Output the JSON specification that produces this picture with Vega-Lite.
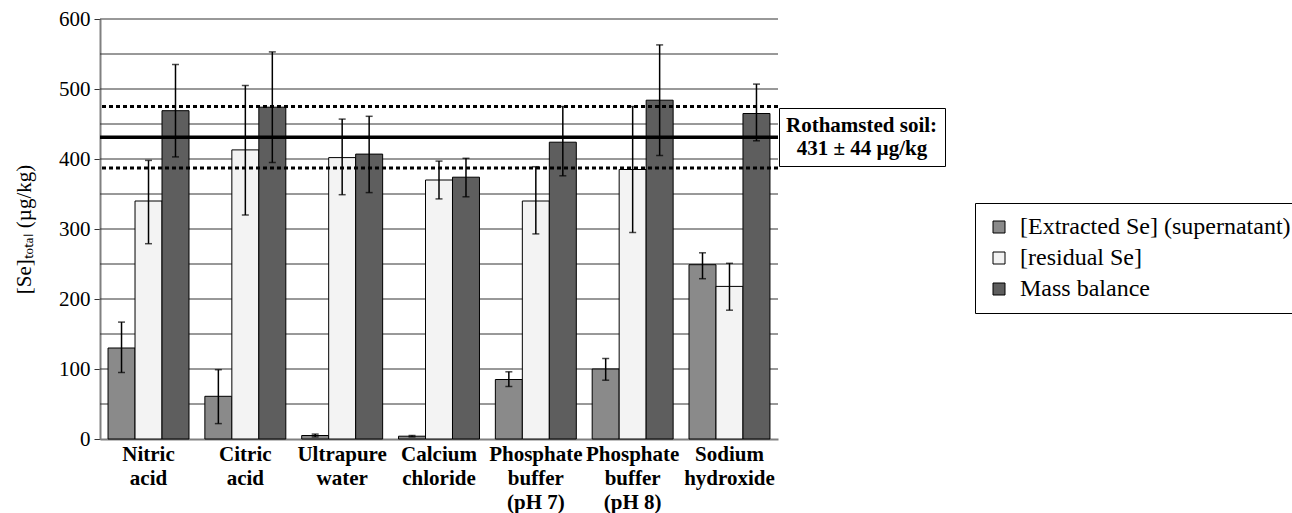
{
  "$schema": "https://vega.github.io/schema/vega-lite/v6.json",
  "width": 678,
  "height": 420,
  "autosize": "none",
  "padding": {"left": 100, "top": 19, "right": 514, "bottom": 74},
  "background": "white",
  "config": {
    "font": "Liberation Serif",
    "view": {"stroke": null},
    "axis": {"labelColor": "black", "titleColor": "black", "labelFont": "Liberation Serif", "titleFont": "Liberation Serif"},
    "legend": {"labelFont": "Liberation Serif", "titleFont": "Liberation Serif"}
  },
  "datasets": {
    "bars": [
      {"cat": "Nitric|acid", "series": "[Extracted Se] (supernatant)", "value": 130, "lo": 95, "hi": 167},
      {"cat": "Nitric|acid", "series": "[residual Se]", "value": 340, "lo": 279, "hi": 398},
      {"cat": "Nitric|acid", "series": "Mass balance", "value": 469, "lo": 403, "hi": 535},
      {"cat": "Citric|acid", "series": "[Extracted Se] (supernatant)", "value": 61, "lo": 22, "hi": 99},
      {"cat": "Citric|acid", "series": "[residual Se]", "value": 413, "lo": 320, "hi": 505},
      {"cat": "Citric|acid", "series": "Mass balance", "value": 474, "lo": 395, "hi": 553},
      {"cat": "Ultrapure|water", "series": "[Extracted Se] (supernatant)", "value": 5, "lo": 3, "hi": 7},
      {"cat": "Ultrapure|water", "series": "[residual Se]", "value": 402, "lo": 349, "hi": 457},
      {"cat": "Ultrapure|water", "series": "Mass balance", "value": 407, "lo": 352, "hi": 461},
      {"cat": "Calcium|chloride", "series": "[Extracted Se] (supernatant)", "value": 4, "lo": 3, "hi": 5},
      {"cat": "Calcium|chloride", "series": "[residual Se]", "value": 370, "lo": 343, "hi": 397},
      {"cat": "Calcium|chloride", "series": "Mass balance", "value": 374, "lo": 346, "hi": 401},
      {"cat": "Phosphate|buffer|(pH 7)", "series": "[Extracted Se] (supernatant)", "value": 85, "lo": 75, "hi": 96},
      {"cat": "Phosphate|buffer|(pH 7)", "series": "[residual Se]", "value": 340, "lo": 293, "hi": 389},
      {"cat": "Phosphate|buffer|(pH 7)", "series": "Mass balance", "value": 424, "lo": 376, "hi": 475},
      {"cat": "Phosphate|buffer|(pH 8)", "series": "[Extracted Se] (supernatant)", "value": 100, "lo": 84, "hi": 115},
      {"cat": "Phosphate|buffer|(pH 8)", "series": "[residual Se]", "value": 385, "lo": 295, "hi": 475},
      {"cat": "Phosphate|buffer|(pH 8)", "series": "Mass balance", "value": 484, "lo": 405, "hi": 563},
      {"cat": "Sodium|hydroxide", "series": "[Extracted Se] (supernatant)", "value": 249, "lo": 229, "hi": 266},
      {"cat": "Sodium|hydroxide", "series": "[residual Se]", "value": 218, "lo": 184, "hi": 251},
      {"cat": "Sodium|hydroxide", "series": "Mass balance", "value": 465, "lo": 426, "hi": 507}
    ],
    "refs": [
      {"value": 431, "kind": "mean", "label": "431 ± 44 µg/kg"},
      {"value": 475, "kind": "bound", "label": "upper"},
      {"value": 387, "kind": "bound", "label": "lower"}
    ],
    "grid": [
      {"value": 50}, {"value": 100}, {"value": 150}, {"value": 200}, {"value": 250}, {"value": 300},
      {"value": 350}, {"value": 400}, {"value": 450}, {"value": 500}, {"value": 550}, {"value": 600}
    ]
  },
  "layer": [
    {
      "data": {"name": "grid"},
      "mark": {"type": "rule", "color": "#333333", "strokeWidth": 1},
      "encoding": {"y": {"field": "value", "type": "quantitative"}}
    },
    {
      "data": {"name": "bars"},
      "mark": {"type": "bar", "stroke": "black", "strokeWidth": 1},
      "encoding": {
        "x": {
          "field": "cat", "type": "nominal", "sort": null,
          "scale": {"paddingInner": 0.164, "paddingOuter": 0.083},
          "axis": {
            "title": null, "labelAngle": 0, "ticks": false,
            "labelExpr": "split(datum.label, '|')",
            "labelFontWeight": "bold", "labelFontSize": 21, "labelLineHeight": 24,
            "labelPadding": 4, "domainColor": "#808080", "domainWidth": 2,
            "labelBaseline": "top", "labelOverlap": false
          }
        },
        "xOffset": {
          "field": "series", "type": "nominal", "sort": null,
          "scale": {"paddingInner": 0, "paddingOuter": 0}
        },
        "y": {
          "field": "value", "type": "quantitative",
          "scale": {"domain": [0, 600], "nice": false},
          "axis": {
            "title": "[Se]ₜₒₜₐₗ (µg/kg)",
            "titleFontSize": 21, "titleFontWeight": "normal", "titlePadding": 24,
            "values": [0, 50, 100, 150, 200, 250, 300, 350, 400, 450, 500, 550, 600],
            "labelOverlap": false,
            "grid": false,
            "tickColor": "#333333", "tickSize": 6,
            "domainColor": "#808080", "domainWidth": 2,
            "labelFontSize": 21, "labelPadding": 4
          }
        },
        "fill": {
          "field": "series", "type": "nominal", "sort": null,
          "scale": {"domain": ["[Extracted Se] (supernatant)", "[residual Se]", "Mass balance"], "range": ["#8a8a8a", "#f3f3f3", "#5e5e5e"]},
          "legend": {
            "orient": "none", "legendX": 875, "legendY": 184,
            "title": null, "labelFontSize": 24, "labelColor": "black", "labelLimit": 500,
            "symbolType": "square", "symbolSize": 144,
            "symbolStrokeColor": "black", "symbolStrokeWidth": 1,
            "strokeColor": "black", "fillColor": "white",
            "padding": 12, "rowPadding": 7, "labelOffset": 9
          }
        }
      }
    },
    {
      "data": {"name": "refs"},
      "transform": [{"filter": "datum.kind == 'bound'"}],
      "mark": {"type": "rule", "color": "black", "strokeWidth": 3, "strokeDash": [4, 3]},
      "encoding": {"y": {"field": "value", "type": "quantitative"}}
    },
    {
      "data": {"name": "refs"},
      "transform": [{"filter": "datum.kind == 'mean'"}],
      "mark": {"type": "rule", "strokeWidth": 3.5},
      "encoding": {
        "y": {"field": "value", "type": "quantitative"},
        "stroke": {
          "field": "label", "type": "nominal",
          "scale": {"range": ["black"]},
          "legend": {
            "orient": "none", "legendX": 679, "legendY": 89,
            "title": "Rothamsted soil:", "titleFontSize": 21, "titleFontWeight": "bold",
            "titleColor": "black", "titlePadding": 2,
            "labelFontSize": 21, "labelFontWeight": "bold", "labelColor": "black",
            "labelAlign": "center", "labelOffset": 55,
            "symbolOpacity": 0, "symbolSize": 1, "symbolStrokeWidth": 0,
            "strokeColor": "black", "fillColor": "white", "padding": 7
          }
        }
      }
    },
    {
      "data": {"name": "bars"},
      "mark": {"type": "rule", "color": "black", "strokeWidth": 1.5},
      "encoding": {
        "x": {"field": "cat", "type": "nominal", "sort": null},
        "xOffset": {"field": "series", "type": "nominal", "sort": null},
        "y": {"field": "lo", "type": "quantitative"},
        "y2": {"field": "hi"}
      }
    },
    {
      "data": {"name": "bars"},
      "mark": {"type": "tick", "color": "black", "orient": "horizontal", "size": 7, "thickness": 1.5},
      "encoding": {
        "x": {"field": "cat", "type": "nominal", "sort": null},
        "xOffset": {"field": "series", "type": "nominal", "sort": null},
        "y": {"field": "lo", "type": "quantitative"}
      }
    },
    {
      "data": {"name": "bars"},
      "mark": {"type": "tick", "color": "black", "orient": "horizontal", "size": 7, "thickness": 1.5},
      "encoding": {
        "x": {"field": "cat", "type": "nominal", "sort": null},
        "xOffset": {"field": "series", "type": "nominal", "sort": null},
        "y": {"field": "hi", "type": "quantitative"}
      }
    }
  ]
}
